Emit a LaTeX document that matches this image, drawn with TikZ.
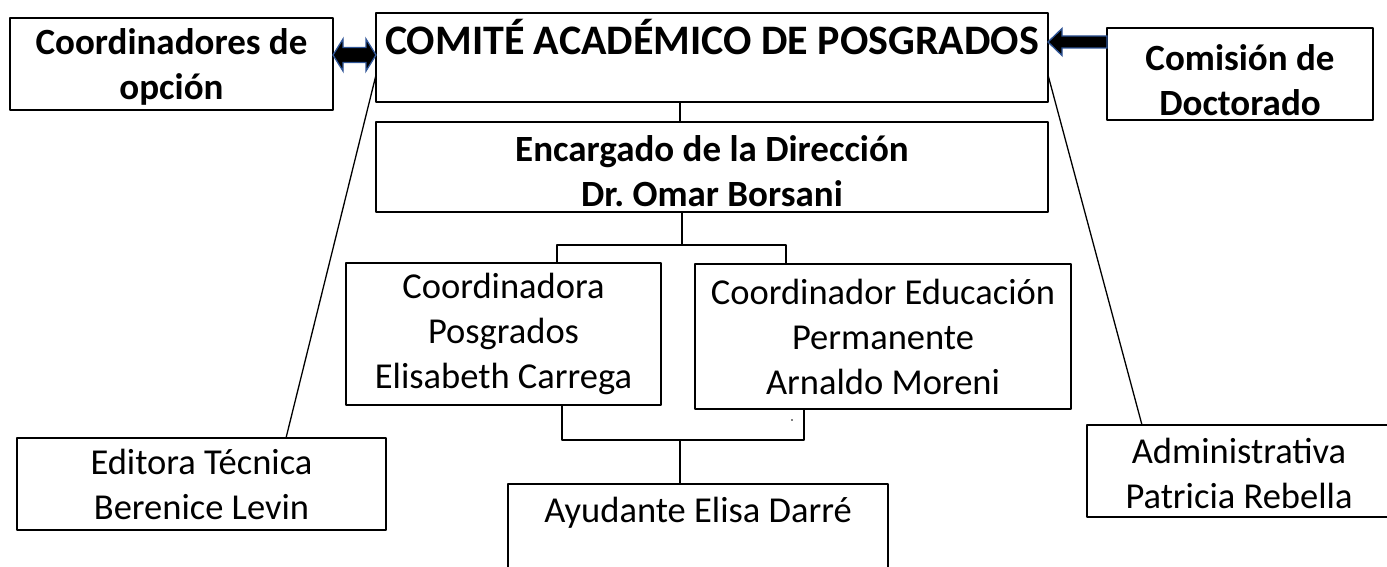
\documentclass[tikz,border=0pt]{standalone}
\usepackage{fontspec}
\setmainfont{Carlito}
\usetikzlibrary{calc}
\definecolor{arrowblue}{RGB}{47,85,151}

\begin{document}
\begin{tikzpicture}[x=1pt,y=-1pt,line cap=round,line join=round,
  box/.style={draw,line width=1.5pt,inner sep=0pt,outer sep=0pt,align=center},
  boldtxt/.style={font=\fontsize{37}{45}\selectfont\bfseries},
  plaintxt/.style={font=\fontsize{36.5}{45}\selectfont},
  link/.style={line width=1.3pt},
  blockarr/.style={fill=black,draw=arrowblue,line width=1.3pt,line join=miter}]
\useasboundingbox (0,0) rectangle (1387,567);
\clip (0,0) rectangle (1387,567);
\node[box,boldtxt,minimum width=323pt,minimum height=92pt] (opcion) at (171.5,64) {\rule{0pt}{32pt}Coordinadores de\\opción};
\node[box,font=\fontsize{42}{50}\selectfont\bfseries,minimum width=672pt,inner ysep=12pt,text height=30pt,text depth=35pt] (comite) at (712,57.5) {COMITÉ ACADÉMICO DE POSGRADOS};
\node[box,boldtxt,minimum width=266pt,minimum height=92pt] (comision) at (1240,74) {\rule{0pt}{38pt}Comisión de\\Doctorado};
\node[box,boldtxt,minimum width=672pt,minimum height=90pt] (encargado) at (712,167) {\rule{0pt}{35pt}Encargado de la Dirección\\Dr.\ Omar Borsani};
\node[box,plaintxt,minimum width=315pt,minimum height=142pt] (posg) at (503.5,334) {Coordinadora\\Posgrados\\Elisabeth Carrega};
\node[box,plaintxt,minimum width=376pt,minimum height=145pt] (educ) at (883,336.5) {Coordinador Educación\\Permanente\\Arnaldo Moreni};
\node[box,plaintxt,minimum width=369pt,minimum height=92pt] (editora) at (201.5,484) {Editora Técnica\\Berenice Levin};
\node[box,plaintxt,minimum width=304pt,minimum height=92pt] (admin) at (1239,471) {\rule{0pt}{31pt}Administrativa\\Patricia Rebella};
\node[box,plaintxt,minimum width=380pt,inner ysep=8pt,text height=30pt,text depth=60pt] (ayud) at (698,537) {Ayudante Elisa Darré};
\draw[link] ([yshift=-17.5pt]comite.west) -- ([xshift=84.5pt]editora.north);
\draw[link] ([yshift=-17.5pt]comite.east) -- ([xshift=-97pt]admin.north);
\draw[link] ([xshift=-32pt]comite.south) -- ([xshift=-32pt]encargado.north);
\coordinate (split) at ($([xshift=-30pt]encargado.south)+(0,33)$);
\draw[link] ([xshift=-30pt]encargado.south) -- (split);
\draw[link] ([xshift=53.5pt]posg.north) |- (split) -| ([xshift=-97pt]educ.north);
\coordinate (merge) at ($([xshift=-18pt]ayud.north)+(0,-44)$);
\draw[link] ([xshift=58.5pt]posg.south) |- (merge) -| ([xshift=-79pt]educ.south);
\draw[link] (merge) -- ([xshift=-18pt]ayud.north);
\fill (792,420) circle (0.9pt);
\coordinate (al) at ([yshift=9pt]opcion.east);
\coordinate (ar) at (comite.west |- al);
\draw[blockarr] (al) -- ++(10,-16) -- ++(0,8.5) -- ($(ar)+(-10,-7.5)$) -- ++(0,-8.5) -- (ar) -- ++(-10,16) -- ++(0,-8.5) -- ($(al)+(10,7.5)$) -- ++(0,8.5) -- cycle;
\coordinate (bt) at ([yshift=15.5pt]comite.east);
\coordinate (bs) at (comision.west |- bt);
\draw[blockarr] (bt) -- ++(14,-13.5) -- ++(0,7.5) -- ($(bs)+(0,-6)$) -- ++(0,12) -- ($(bt)+(14,6)$) -- ++(0,7.5) -- cycle;
\end{tikzpicture}
\end{document}
